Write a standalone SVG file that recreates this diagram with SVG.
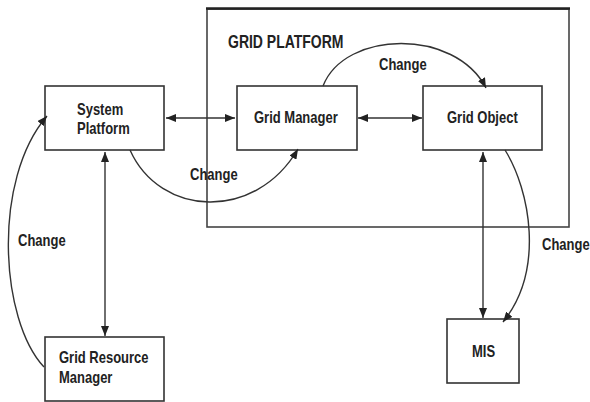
<svg xmlns="http://www.w3.org/2000/svg" width="590" height="402" viewBox="0 0 590 402">
<defs>
<marker id="ah" viewBox="0 0 10 8" refX="10" refY="4" markerWidth="10" markerHeight="8" markerUnits="userSpaceOnUse" orient="auto-start-reverse">
<path d="M0,0 L10,4 L0,8 Z" fill="#222"/>
</marker>
</defs>
<style>
.box{fill:#fff;stroke:#333;stroke-width:1.6}
.ln{fill:none;stroke:#333;stroke-width:1.4}
.t{font-family:"Liberation Sans",Arial,sans-serif;font-weight:bold;font-size:13px;fill:#222}
</style>
<rect width="590" height="402" fill="#fff"/>
<g id="grid-platform">
<rect x="207" y="9" width="362" height="218" fill="none" stroke="#444" stroke-width="1.6"/>
<line x1="206" y1="8.5" x2="570" y2="8.5" stroke="#222" stroke-width="2.5"/>
<text class="t" transform="translate(228,48) scale(1,1.3)" style="font-size:14px">GRID PLATFORM</text>
</g>
<g id="system-platform">
<rect class="box" x="45" y="86" width="119" height="64"/>
<text class="t" transform="translate(77,115) scale(1,1.3)">System</text>
<text class="t" transform="translate(77,134) scale(1,1.3)">Platform</text>
</g>
<g id="grid-manager">
<rect class="box" x="237" y="86" width="120" height="64"/>
<text class="t" transform="translate(254,123) scale(1,1.3)">Grid Manager</text>
</g>
<g id="grid-object">
<rect class="box" x="423" y="86" width="119" height="64"/>
<text class="t" transform="translate(447,123) scale(1,1.3)">Grid Object</text>
</g>
<g id="grid-resource-manager">
<rect class="box" x="45" y="337" width="119" height="64"/>
<text class="t" transform="translate(59,363) scale(1,1.3)">Grid Resource</text>
<text class="t" transform="translate(59,383) scale(1,1.3)">Manager</text>
</g>
<g id="mis">
<rect class="box" x="447" y="319" width="72" height="64"/>
<text class="t" transform="translate(472,357) scale(1,1.3)">MIS</text>
</g>
<g id="connectors">
<line class="ln" x1="166" y1="118" x2="235" y2="118" marker-start="url(#ah)" marker-end="url(#ah)"/>
<line class="ln" x1="358" y1="118" x2="422" y2="118" marker-start="url(#ah)" marker-end="url(#ah)"/>
<line class="ln" x1="105" y1="152" x2="105" y2="336" marker-start="url(#ah)" marker-end="url(#ah)"/>
<line class="ln" x1="483" y1="152" x2="483" y2="318" marker-start="url(#ah)" marker-end="url(#ah)"/>
<path class="ln" d="M323,86 C345,30 455,28 486,88" marker-end="url(#ah)"/>
<path class="ln" d="M130,150 C160,217 255,222 298,149" marker-end="url(#ah)"/>
<path class="ln" d="M44,367 C0,320 -8,180 47,116" marker-end="url(#ah)"/>
<path class="ln" d="M505,150 C530,190 545,270 503,322" marker-end="url(#ah)"/>
<text class="t" transform="translate(379,70) scale(1,1.3)">Change</text>
<text class="t" transform="translate(190,180) scale(1,1.3)">Change</text>
<text class="t" transform="translate(18,246) scale(1,1.3)">Change</text>
<text class="t" transform="translate(542,250) scale(1,1.3)">Change</text>
</g>
</svg>
